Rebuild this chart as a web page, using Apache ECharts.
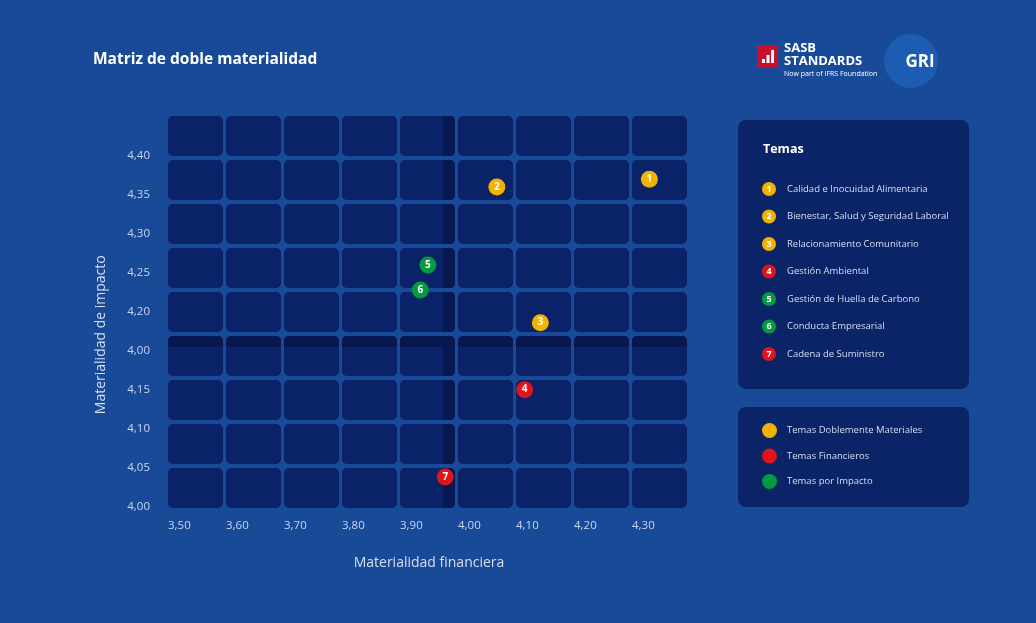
<!DOCTYPE html>
<html lang="es">
<head>
<meta charset="utf-8">
<title>Matriz de doble materialidad</title>
<script src="https://cdn.jsdelivr.net/npm/echarts@6.0.0/dist/echarts.min.js"></script>
<style>
  html, body { margin: 0; padding: 0; background: #184a97; }
  #chart { width: 1036px; height: 623px; }
</style>
</head>
<body>
<div id="chart"></div>
<script>
const FONT = "Open Sans";

// temas (1..7) y su posición en la matriz
const topics = [
  "Calidad e Inocuidad Alimentaria",
  "Bienestar, Salud y Seguridad Laboral",
  "Relacionamiento Comunitario",
  "Gestión Ambiental",
  "Gestión de Huella de Carbono",
  "Conducta Empresarial",
  "Cadena de Suministro"
];
const financialValues = [4.33, 4.067, 4.142, 4.115, 3.948, 3.935, 3.978];
const impactValues = [4.42, 4.41, 4.236, 4.15, 4.31, 4.278, 4.038];
const topicGroup = [0, 0, 0, 1, 2, 2, 1];

const groupNames = ["Temas Doblemente Materiales", "Temas Financieros", "Temas por Impacto"];
const groupColors = ["#f2b300", "#e1141c", "#049a40"];

const xTickLabels = ["3,50", "3,60", "3,70", "3,80", "3,90", "4,00", "4,10", "4,20", "4,30"];
const yTickLabels = ["4,00", "4,05", "4,10", "4,15", "4,00", "4,20", "4,25", "4,30", "4,35", "4,40"];

const CELL_COLS = 9, CELL_ROWS = 9;
const BAND_COL = 4;  // columna con franja oscura (desde la izquierda)
const BAND_ROW = 3;  // fila con franja oscura (desde abajo)

const cellData = [];
for (let i = 0; i < CELL_COLS; i++) {
  for (let j = 0; j < CELL_ROWS; j++) cellData.push([i, j]);
}

const series = [{
  type: "custom",
  xAxisIndex: 1,
  yAxisIndex: 1,
  z: 1,
  silent: true,
  data: cellData,
  renderItem: (params, api) => {
    const c = api.coord([api.value(0), api.value(1)]);
    const w = 55, h = 40;
    const x = c[0] - w / 2, y = c[1] - h / 2;
    const children = [{
      type: "rect",
      shape: { x, y, width: w, height: h, r: 5 },
      style: { fill: "#0a2267" }
    }];
    if (api.value(1) === BAND_ROW) {
      children.push({
        type: "rect",
        shape: { x, y, width: w, height: 11, r: [5, 5, 0, 0] },
        style: { fill: "#06184f" }
      });
    }
    if (api.value(0) === BAND_COL) {
      children.push({
        type: "rect",
        shape: { x: x + w - 12, y, width: 12, height: h, r: [0, 5, 5, 0] },
        style: { fill: "#06184f" }
      });
    }
    return { type: "group", children };
  }
}];

groupNames.forEach((name, g) => {
  const data = [];
  topics.forEach((t, i) => {
    if (topicGroup[i] === g) data.push({ name: t, value: [financialValues[i], impactValues[i], i + 1] });
  });
  series.push({
    name,
    type: "scatter",
    xAxisIndex: 0,
    yAxisIndex: 0,
    z: 5,
    symbolSize: 17,
    itemStyle: { color: groupColors[g], opacity: 1 },
    label: {
      show: true,
      position: "inside",
      formatter: p => p.value[2],
      color: "#ffffff",
      fontFamily: FONT,
      fontWeight: "bold",
      fontSize: 10
    },
    data
  });
});

// panel "Temas" con la lista numerada
const listItems = [];
topics.forEach((t, i) => {
  const y = 189 + i * 27.5;
  listItems.push({
    type: "circle",
    shape: { cx: 769, cy: y, r: 7 },
    style: { fill: groupColors[topicGroup[i]] }
  });
  listItems.push({
    type: "text",
    x: 769, y,
    style: { text: String(i + 1), fill: "#fff", font: `bold 9px "${FONT}"`, align: "center", verticalAlign: "middle" }
  });
  listItems.push({
    type: "text",
    x: 787, y,
    style: { text: t, fill: "#d6dff3", font: `9.5px "${FONT}"`, verticalAlign: "middle" }
  });
});

const chart = echarts.init(document.getElementById("chart"));
chart.setOption({
  backgroundColor: "#184a97",
  animation: false,
  title: {
    text: "Matriz de doble materialidad",
    left: 88,
    top: 47,
    textStyle: { color: "#ffffff", fontFamily: FONT, fontWeight: "bold", fontSize: 15.5 }
  },
  legend: {
    orient: "vertical",
    left: 762,
    top: 423,
    padding: 0,
    itemWidth: 15,
    itemHeight: 15,
    itemGap: 10.5,
    icon: "circle",
    selectedMode: false,
    data: groupNames,
    textStyle: { color: "#d6dff3", fontFamily: FONT, fontSize: 9.5, padding: [0, 0, 0, 5] }
  },
  grid: [
    { left: 168, right: 346, top: 117, bottom: 116.5 },
    { left: 166.5, right: 347.5, top: 114, bottom: 113 }
  ],
  xAxis: [{
    type: "value",
    gridIndex: 0,
    min: 3.5,
    max: 4.4,
    interval: 0.1,
    name: "Materialidad financiera",
    nameLocation: "middle",
    nameGap: 50,
    nameTextStyle: { color: "#d6dff3", fontFamily: FONT, fontSize: 14 },
    axisLine: { show: false },
    axisTick: { show: false },
    splitLine: { show: false },
    axisLabel: {
      showMaxLabel: false,
      align: "left",
      margin: 13,
      color: "#c9d5ee",
      fontFamily: FONT,
      fontSize: 11.5,
      formatter: v => xTickLabels[Math.round((v - 3.5) / 0.1)] || ""
    }
  }, {
    type: "category",
    gridIndex: 1,
    show: false,
    data: [...Array(CELL_COLS).keys()]
  }],
  yAxis: [{
    type: "value",
    gridIndex: 0,
    min: 4.0,
    max: 4.5,
    interval: 0.05,
    name: "Materialidad de impacto",
    nameLocation: "middle",
    nameGap: 60,
    nameTextStyle: { color: "#d6dff3", fontFamily: FONT, fontSize: 14, padding: [0, 46, 0, 0] },
    axisLine: { show: false },
    axisTick: { show: false },
    splitLine: { show: false },
    axisLabel: {
      showMaxLabel: false,
      margin: 18,
      color: "#c9d5ee",
      fontFamily: FONT,
      fontSize: 11.5,
      formatter: v => yTickLabels[Math.round((v - 4.0) / 0.05)] || ""
    }
  }, {
    type: "category",
    gridIndex: 1,
    show: false,
    data: [...Array(CELL_ROWS).keys()]
  }],
  graphic: [
    // paneles
    { type: "rect", z: -1, shape: { x: 738, y: 120, width: 231, height: 269, r: 8 }, style: { fill: "#0b2468" } },
    { type: "rect", z: -1, shape: { x: 738, y: 407, width: 231, height: 100, r: 8 }, style: { fill: "#0b2468" } },
    { type: "text", x: 763, y: 149, style: { text: "Temas", fill: "#ffffff", font: `bold 12.5px "${FONT}"`, verticalAlign: "middle" } },
    { type: "group", children: listItems },
    // logo SASB
    { type: "rect", shape: { x: 757, y: 45, width: 21, height: 22 }, style: { fill: "#c8102e" } },
    { type: "rect", shape: { x: 762, y: 59, width: 3, height: 4 }, style: { fill: "#ffffff" } },
    { type: "rect", shape: { x: 766.5, y: 55, width: 3, height: 8 }, style: { fill: "#ffffff" } },
    { type: "rect", shape: { x: 771, y: 50, width: 3, height: 13 }, style: { fill: "#ffffff" } },
    { type: "text", x: 784, y: 42, style: { text: "SASB", fill: "#ffffff", font: `bold 13px "${FONT}"` } },
    { type: "text", x: 784, y: 55, style: { text: "STANDARDS", fill: "#ffffff", font: `bold 13px "${FONT}"` } },
    { type: "text", x: 784, y: 70, style: { text: "Now part of IFRS Foundation", fill: "#ffffff", font: `7px "${FONT}"` } },
    // logo GRI
    { type: "circle", shape: { cx: 911, cy: 61, r: 27 }, style: { fill: "#1c5db3" } },
    { type: "text", x: 920, y: 62, style: { text: "GRI", fill: "#ffffff", font: `bold 17px "${FONT}"`, align: "center", verticalAlign: "middle" } }
  ],
  series
});
</script>
</body>
</html>
